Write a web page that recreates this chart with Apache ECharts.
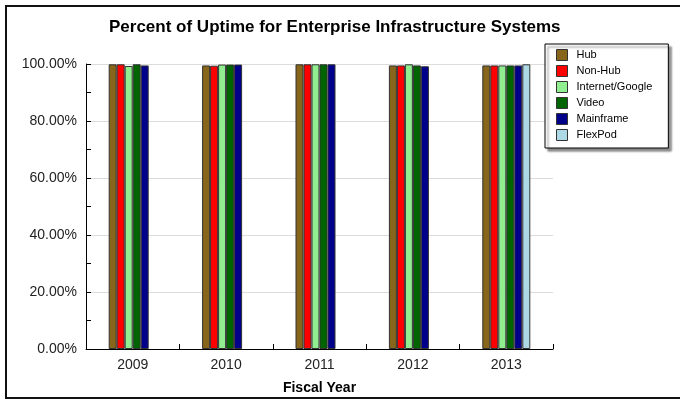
<!DOCTYPE html>
<html>
<head>
<meta charset="utf-8">
<script src="https://cdn.jsdelivr.net/npm/echarts@6/dist/echarts.min.js"></script>
<style>
  html, body { margin: 0; padding: 0; background: #fff; }
  #chart { width: 680px; height: 400px; }
</style>
</head>
<body>
<div id="chart"></div>
<script>
// Fiscal years on the category axis
const years = ['2009', '2010', '2011', '2012', '2013'];

// Uptime per system, in percent
const hub       = [99.9, 99.5, 99.9, 99.5, 99.5];
const nonHub    = [99.9, 99.4, 99.9, 99.5, 99.5];
const internet  = [99.3, 99.8, 99.9, 99.9, 99.5];
const video     = [99.9, 99.8, 99.9, 99.5, 99.5];
const mainframe = [99.5, 99.8, 99.9, 99.2, 99.5];
const flexPod   = [null, null, null, null, 99.9];

const seriesNames = ['Hub', 'Non-Hub', 'Internet/Google', 'Video', 'Mainframe', 'FlexPod'];
const seriesData = [hub, nonHub, internet, video, mainframe, flexPod];
const seriesColors = ['#87651a', '#ff0000', '#90ee90', '#006400', '#00008b', '#add8e6'];

const FONT = 'Liberation Sans, Arial, sans-serif';

const chart = echarts.init(document.getElementById('chart'), null, { renderer: 'canvas' });

chart.setOption({
  animation: false,
  backgroundColor: '#fff',
  textStyle: { fontFamily: FONT },
  title: {
    text: 'Percent of Uptime for Enterprise Infrastructure Systems',
    left: 104,
    top: 14,
    textStyle: { fontFamily: FONT, fontSize: 17, fontWeight: 'bold', color: '#000' }
  },
  legend: {
    orient: 'vertical',
    left: 545,
    top: 44,
    padding: [5, 16, 7, 11],
    itemWidth: 11,
    itemHeight: 11,
    itemGap: 4,
    icon: 'rect',
    backgroundColor: '#fff',
    borderColor: '#000',
    borderWidth: 1,
    shadowColor: 'rgba(0,0,0,0.45)',
    shadowOffsetX: 3,
    shadowOffsetY: 3,
    shadowBlur: 2,
    itemStyle: { borderColor: '#333', borderWidth: 1 },
    textStyle: { fontFamily: FONT, fontSize: 11, color: '#000', padding: [0, 0, 0, 4] },
    data: seriesNames
  },
  grid: { left: 86, right: 127, top: 64, bottom: 51, containLabel: false },
  xAxis: {
    type: 'category',
    data: years,
    name: 'Fiscal Year',
    nameLocation: 'middle',
    nameGap: 32,
    nameTextStyle: { fontFamily: FONT, fontSize: 14, fontWeight: 'bold', color: '#000' },
    axisLine: { lineStyle: { color: '#000', width: 1 } },
    axisTick: { show: true, inside: true, length: 5, alignWithLabel: false, lineStyle: { color: '#000' } },
    axisLabel: { fontFamily: FONT, fontSize: 14, color: '#222', margin: 9 }
  },
  yAxis: {
    type: 'value',
    min: 0,
    max: 100,
    interval: 20,
    axisLine: { show: true, lineStyle: { color: '#000', width: 1 } },
    axisTick: { show: true, inside: true, length: 5, lineStyle: { color: '#000' } },
    minorTick: { show: true, splitNumber: 2, length: 5, lineStyle: { color: '#000' } },
    splitLine: { show: true, lineStyle: { color: '#dcdcdc', width: 1 } },
    axisLabel: {
      fontFamily: FONT, fontSize: 14, color: '#222', margin: 9,
      formatter: v => v.toFixed(2) + '%'
    }
  },
  graphic: [{
    type: 'polyline',
    shape: { points: [[720, 6], [6, 6], [6, 398], [720, 398]] },
    style: { fill: null, stroke: '#111', lineWidth: 2 },
    silent: true,
    z: 100
  }],
  series: seriesNames.map((name, i) => ({
    name,
    type: 'bar',
    data: seriesData[i],
    barWidth: 8,
    barGap: '0%',
    itemStyle: { color: seriesColors[i], borderColor: '#333', borderWidth: 1 }
  }))
});
</script>
</body>
</html>
